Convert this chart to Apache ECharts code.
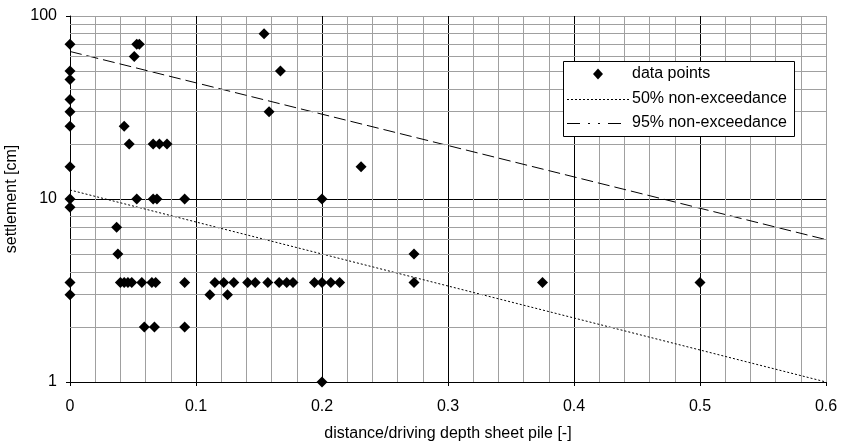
<!DOCTYPE html>
<html>
<head>
<meta charset="utf-8">
<script src="https://cdn.jsdelivr.net/npm/echarts@6/dist/echarts.min.js"></script>
<style>
  html, body { margin: 0; padding: 0; background: #fff; }
  #chart { width: 841px; height: 441px; }
</style>
</head>
<body>
<div id="chart"></div>
<script>
// Measured settlements against relative distance to the sheet pile
const pointX = [
  0, 0, 0, 0, 0, 0, 0, 0, 0, 0, 0,
  0.053, 0.055, 0.051, 0.154, 0.167, 0.158, 0.043, 0.047,
  0.066, 0.071, 0.077, 0.231, 0.2, 0.053, 0.066, 0.069, 0.091,
  0.037, 0.038, 0.273,
  0.04, 0.043, 0.046, 0.049, 0.057, 0.065, 0.068, 0.091, 0.115, 0.122,
  0.13, 0.141, 0.147, 0.157, 0.166, 0.172, 0.177, 0.194, 0.2, 0.207,
  0.214, 0.273, 0.375, 0.5,
  0.111, 0.125,
  0.059, 0.067, 0.091,
  0.2
];
const pointY = [
  70, 50, 45, 35, 30, 25, 15, 10, 9, 3.5, 3,
  70, 70, 60, 80, 50, 30, 25, 20,
  20, 20, 20, 15, 10, 10, 10, 10, 10,
  7, 5, 5,
  3.5, 3.5, 3.5, 3.5, 3.5, 3.5, 3.5, 3.5, 3.5, 3.5,
  3.5, 3.5, 3.5, 3.5, 3.5, 3.5, 3.5, 3.5, 3.5, 3.5,
  3.5, 3.5, 3.5, 3.5,
  3, 3,
  2, 2, 2,
  1
];

// Exponential fit lines (straight on the log scale)
const fitX = [0, 0.6];
const fit50 = [11.2, 1.0];
const fit95 = [64, 6];

// Minor grid values on the logarithmic settlement axis
const minorY = [2, 3, 4, 5, 6, 7, 8, 9, 20, 30, 40, 50, 60, 70, 80, 90];

// Legend entries
const legendNames = ['data points', '50% non-exceedance', '95% non-exceedance'];

const FONT = 'Liberation Sans, Arial, sans-serif';
const FS = 16;
const MINOR = '#a0a0a0';

// Legend box drawn as graphic elements (box, sample marks, labels)
const LG = { x: 563, y: 61, w: 231, h: 75, rowY: [74, 99, 123], iconX0: 567, iconX1: 629, textX: 632 };
const legendGraphic = [
  {
    type: 'rect',
    shape: { x: LG.x + 0.5, y: LG.y + 0.5, width: LG.w, height: LG.h },
    style: { fill: '#fff', stroke: '#000', lineWidth: 1 },
    z: 100
  },
  {
    type: 'polygon',
    shape: { points: [[598, LG.rowY[0] - 5.5], [603, LG.rowY[0]], [598, LG.rowY[0] + 5.5], [593, LG.rowY[0]]] },
    style: { fill: '#000' },
    z: 101
  },
  {
    type: 'line',
    shape: { x1: LG.iconX0, y1: LG.rowY[1] + 0.5, x2: LG.iconX1, y2: LG.rowY[1] + 0.5 },
    style: { stroke: '#000', lineWidth: 1, lineDash: [2, 2] },
    z: 101
  },
  {
    type: 'line',
    shape: { x1: LG.iconX0, y1: LG.rowY[2] + 0.5, x2: LG.iconX1, y2: LG.rowY[2] + 0.5 },
    style: { stroke: '#000', lineWidth: 1, lineDash: [13, 8, 2, 8, 2, 8] },
    z: 101
  }
].concat(legendNames.map((name, i) => ({
  type: 'text',
  x: LG.textX,
  y: LG.rowY[i],
  style: { text: name, font: FS + 'px ' + FONT, fill: '#000', textVerticalAlign: 'middle', verticalAlign: 'middle' },
  z: 101
})));

const chart = echarts.init(document.getElementById('chart'), null, { renderer: 'canvas' });

chart.setOption({
  animation: false,
  backgroundColor: '#fff',
  textStyle: { fontFamily: FONT, color: '#000' },
  grid: { left: 70, right: 15, top: 16, bottom: 59, containLabel: false, outerBoundsMode: 'none' },
  graphic: legendGraphic,
  xAxis: {
    type: 'value',
    min: 0,
    max: 0.6,
    interval: 0.1,
    name: 'distance/driving depth sheet pile [-]',
    nameLocation: 'middle',
    nameGap: 44,
    nameTextStyle: { fontFamily: FONT, fontSize: FS, color: '#000' },
    axisLine: { show: true, onZero: false, lineStyle: { color: '#000', width: 1 } },
    axisTick: { show: true, inside: false, length: 4, lineStyle: { color: '#000' } },
    axisLabel: { margin: 17, fontFamily: FONT, fontSize: FS, color: '#000' },
    splitLine: { show: true, lineStyle: { color: ['#000', '#000', '#000', '#000', '#000', '#000', MINOR], width: 1 } },
    minorTick: { show: false, splitNumber: 5 },
    minorSplitLine: { show: true, lineStyle: { color: MINOR, width: 1 } }
  },
  yAxis: {
    type: 'log',
    logBase: 10,
    min: 1,
    max: 100,
    name: 'settlement [cm]',
    nameLocation: 'middle',
    nameGap: 42,
    nameTextStyle: { fontFamily: FONT, fontSize: FS, color: '#000' },
    axisLine: { show: true, onZero: false, lineStyle: { color: '#000', width: 1 } },
    axisTick: { show: true, inside: false, length: 4, lineStyle: { color: '#000' } },
    axisLabel: { margin: 13, fontFamily: FONT, fontSize: FS, color: '#000' },
    splitLine: { show: true, lineStyle: { color: ['#000', '#000', MINOR], width: 1 } }
  },
  series: [
    {
      // minor horizontal grid of the log axis
      name: 'minor grid',
      type: 'line',
      data: [],
      z: 0,
      silent: true,
      markLine: {
        silent: true,
        symbol: 'none',
        label: { show: false },
        lineStyle: { color: MINOR, width: 1, type: 'solid' },
        data: minorY.map(v => ({ yAxis: v }))
      }
    },
    {
      name: legendNames[1],
      type: 'line',
      data: fitX.map((x, i) => [x, fit50[i]]),
      symbol: 'none',
      lineStyle: { color: '#000', width: 1, type: [2, 2] },
      itemStyle: { color: '#000' },
      z: 3
    },
    {
      name: legendNames[2],
      type: 'line',
      data: fitX.map((x, i) => [x, fit95[i]]),
      symbol: 'none',
      lineStyle: { color: '#000', width: 1, type: [12, 5] },
      itemStyle: { color: '#000' },
      z: 3
    },
    {
      name: legendNames[0],
      type: 'scatter',
      data: pointX.map((x, i) => [x, pointY[i]]),
      symbol: 'diamond',
      symbolSize: 11,
      itemStyle: { color: '#000', opacity: 1 },
      z: 5
    }
  ]
});
</script>
</body>
</html>
